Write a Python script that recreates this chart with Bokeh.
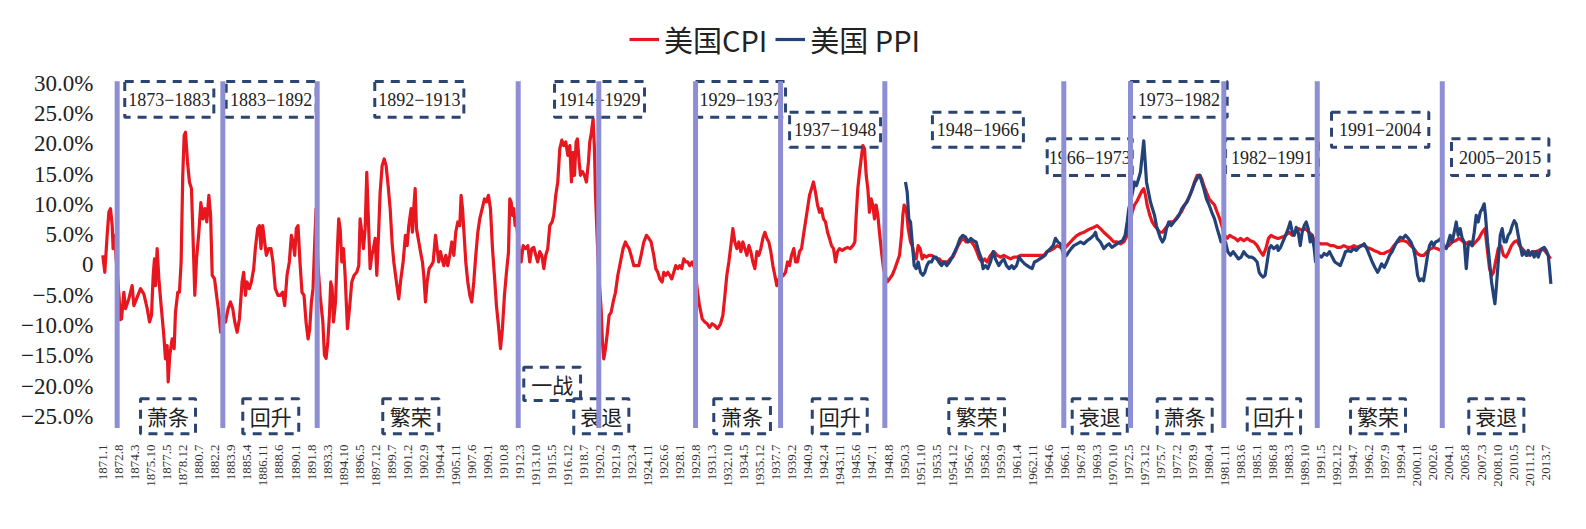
import numpy as np
from bokeh.plotting import figure
from bokeh.models import Range1d, FixedTicker, Legend, LegendItem
from bokeh.core.properties import value
from bokeh.embed import file_html
from bokeh.resources import INLINE

# ---------------- data ----------------
tick_labels = ["1871.1", "1872.8", "1874.3", "1875.10", "1877.5", "1878.12", "1880.7", "1882.2", "1883.9",
               "1885.4", "1886.11", "1888.6", "1890.1", "1891.8", "1893.3", "1894.10", "1896.5", "1897.12",
               "1899.7", "1901.2", "1902.9", "1904.4", "1905.11", "1907.6", "1909.1", "1910.8", "1912.3",
               "1913.10", "1915.5", "1916.12", "1918.7", "1920.2", "1921.9", "1923.4", "1924.11", "1926.6",
               "1928.1", "1929.8", "1931.3", "1932.10", "1934.5", "1935.12", "1937.7", "1939.2", "1940.9",
               "1942.4", "1943.11", "1945.6", "1947.1", "1948.8", "1950.3", "1951.10", "1953.5", "1954.12",
               "1956.7", "1958.2", "1959.9", "1961.4", "1962.11", "1964.6", "1966.1", "1967.8", "1969.3",
               "1970.10", "1972.5", "1973.12", "1975.7", "1977.2", "1978.9", "1980.4", "1981.11", "1983.6",
               "1985.1", "1986.8", "1988.3", "1989.10", "1991.5", "1992.12", "1994.7", "1996.2", "1997.9",
               "1999.4", "2000.11", "2002.6", "2004.1", "2005.8", "2007.3", "2008.10", "2010.5", "2011.12",
               "2013.7"]

y_ticks = [30, 25, 20, 15, 10, 5, 0, -5, -10, -15, -20, -25]
y_tick_labels = ["30.0%", "25.0%", "20.0%", "15.0%", "10.0%", "5.0%", "0", "−5.0%", "−10.0%",
                 "−15.0%", "−20.0%", "−25.0%"]

cpi_year = [1870.96, 1871.16, 1871.39, 1871.56, 1871.72, 1871.89, 1871.98, 1872.15, 1872.28, 1872.41, 1872.55,
            1872.7, 1872.81, 1873.04, 1873.2, 1873.53, 1873.86, 1874.03, 1874.36, 1874.69, 1875.02, 1875.35,
            1875.58, 1875.77, 1875.94, 1876.07, 1876.17, 1876.33, 1876.5, 1876.69, 1876.99, 1877.15, 1877.32,
            1877.42, 1877.58, 1877.81, 1878.01, 1878.14, 1878.37, 1878.53, 1878.7, 1878.86, 1879.0, 1879.13,
            1879.33, 1879.52, 1879.72, 1879.89, 1880.05, 1880.22, 1880.45, 1880.65, 1880.85, 1881.05, 1881.24,
            1881.44, 1881.61, 1881.77, 1882.0, 1882.2, 1882.37, 1882.6, 1882.76, 1883.08, 1883.34, 1883.57,
            1883.8, 1884.0, 1884.23, 1884.46, 1884.72, 1884.88, 1885.05, 1885.21, 1885.44, 1885.64, 1885.87,
            1886.03, 1886.26, 1886.43, 1886.59, 1886.76, 1886.95, 1887.12, 1887.35, 1887.58, 1887.77, 1888.0,
            1888.27, 1888.5, 1888.73, 1888.93, 1889.16, 1889.39, 1889.59, 1889.75, 1889.92, 1890.08, 1890.25,
            1890.44, 1890.64, 1890.84, 1891.04, 1891.24, 1891.4, 1891.57, 1891.73, 1891.9, 1892.03, 1892.2,
            1892.43, 1892.7, 1892.86, 1893.02, 1893.19, 1893.35, 1893.48, 1893.62, 1893.75, 1893.95, 1894.14,
            1894.27, 1894.41, 1894.57, 1894.74, 1894.9, 1895.13, 1895.33, 1895.56, 1895.79, 1896.05, 1896.25,
            1896.38, 1896.55, 1896.71, 1896.88, 1897.04, 1897.21, 1897.37, 1897.54, 1897.7, 1897.87, 1898.03,
            1898.2, 1898.36, 1898.56, 1898.76, 1898.95, 1899.15, 1899.35, 1899.55, 1899.71, 1899.97, 1900.2,
            1900.37, 1900.63, 1900.86, 1901.03, 1901.19, 1901.42, 1901.55, 1901.68, 1901.82, 1901.95, 1902.18,
            1902.41, 1902.54, 1902.67, 1902.84, 1903.0, 1903.2, 1903.4, 1903.6, 1903.83, 1903.99, 1904.15,
            1904.32, 1904.48, 1904.65, 1904.85, 1905.04, 1905.24, 1905.44, 1905.64, 1905.83, 1906.03, 1906.23,
            1906.36, 1906.5, 1906.62, 1906.82, 1907.02, 1907.22, 1907.41, 1907.61, 1907.81, 1908.01, 1908.2,
            1908.44, 1908.67, 1908.86, 1909.06, 1909.26, 1909.46, 1909.65, 1909.85, 1910.05, 1910.25, 1910.44,
            1910.64, 1910.84, 1911.04, 1911.17, 1911.3, 1911.43, 1911.56, 1911.7, 1911.83, 1912.05, 1912.29,
            1912.49, 1912.72, 1912.95, 1913.14, 1913.34, 1913.54, 1913.74, 1913.93, 1914.13, 1914.33, 1914.53,
            1914.72, 1914.92, 1915.12, 1915.35, 1915.51, 1915.71, 1915.91, 1916.11, 1916.31, 1916.5, 1916.7,
            1916.9, 1917.1, 1917.26, 1917.42, 1917.56, 1917.72, 1917.85, 1918.02, 1918.15, 1918.35, 1918.54,
            1918.74, 1918.94, 1919.07, 1919.23, 1919.4, 1919.53, 1919.63, 1919.79, 1919.96, 1920.19, 1920.32,
            1920.45, 1920.62, 1920.78, 1920.98, 1921.18, 1921.38, 1921.61, 1921.84, 1922.1, 1922.36, 1922.59,
            1922.76, 1922.96, 1923.15, 1923.42, 1923.68, 1923.91, 1924.14, 1924.41, 1924.67, 1924.9, 1925.13,
            1925.39, 1925.59, 1925.79, 1925.99, 1926.22, 1926.38, 1926.58, 1926.78, 1926.97, 1927.17, 1927.37,
            1927.56, 1927.76, 1927.96, 1928.16, 1928.36, 1928.55, 1928.75, 1928.95, 1929.19, 1929.45, 1929.68,
            1929.91, 1930.18, 1930.44, 1930.67, 1930.9, 1931.16, 1931.43, 1931.69, 1931.99, 1932.22, 1932.42,
            1932.61, 1932.81, 1933.01, 1933.21, 1933.4, 1933.6, 1933.8, 1934.0, 1934.19, 1934.39, 1934.59,
            1934.79, 1934.98, 1935.18, 1935.38, 1935.58, 1935.77, 1935.97, 1936.17, 1936.37, 1936.56, 1936.76,
            1936.96, 1937.16, 1937.35, 1937.55, 1937.75, 1938.21, 1938.41, 1938.61, 1938.8, 1939.0, 1939.23,
            1939.4, 1939.59, 1939.79, 1939.99, 1940.18, 1940.38, 1940.58, 1940.78, 1940.98, 1941.17, 1941.37,
            1941.57, 1941.77, 1941.96, 1942.16, 1942.36, 1942.56, 1942.75, 1942.95, 1943.15, 1943.35, 1943.54,
            1943.74, 1944.01, 1944.27, 1944.53, 1944.8, 1945.06, 1945.26, 1945.39, 1945.55, 1945.72, 1945.88,
            1946.05, 1946.21, 1946.38, 1946.54, 1946.7, 1946.87, 1947.03, 1947.2, 1947.36, 1947.53, 1947.69,
            1947.89, 1948.09, 1948.45, 1948.68, 1948.94, 1949.21, 1949.44, 1949.67, 1949.87, 1950.0, 1950.13,
            1950.33, 1950.53, 1950.76, 1950.92, 1951.12, 1951.32, 1951.51, 1951.71, 1951.91, 1952.11, 1952.3,
            1952.57, 1952.83, 1953.09, 1953.36, 1953.62, 1953.88, 1954.15, 1954.41, 1954.67, 1954.94, 1955.2,
            1955.46, 1955.73, 1955.99, 1956.25, 1956.52, 1956.78, 1957.04, 1957.31, 1957.57, 1957.83, 1958.1,
            1958.33, 1958.66, 1958.99, 1959.32, 1959.65, 1959.97, 1960.3, 1960.63, 1960.96, 1961.29, 1961.62,
            1961.95, 1962.28, 1962.61, 1962.94, 1963.27, 1963.6, 1963.93, 1964.25, 1964.58, 1964.91, 1965.24,
            1965.57, 1965.9, 1966.23, 1966.56, 1966.89, 1967.22, 1967.55, 1967.88, 1968.2, 1968.53, 1968.86,
            1969.19, 1969.52, 1969.85, 1970.18, 1970.51, 1970.84, 1971.17, 1971.5, 1971.83, 1972.16, 1972.42,
            1972.65, 1972.88, 1973.15, 1973.41, 1973.64, 1973.8, 1973.97, 1974.13, 1974.4, 1974.63, 1974.86,
            1975.12, 1975.39, 1975.65, 1975.91, 1976.18, 1976.44, 1976.7, 1976.97, 1977.23, 1977.49, 1977.76,
            1978.02, 1978.28, 1978.55, 1978.81, 1979.07, 1979.34, 1979.53, 1979.73, 1979.99, 1980.26, 1980.52,
            1980.79, 1981.05, 1981.31, 1981.51, 1981.75, 1982.04, 1982.3, 1982.56, 1982.83, 1983.09, 1983.35,
            1983.68, 1984.01, 1984.34, 1984.67, 1985.0, 1985.33, 1985.59, 1985.86, 1986.12, 1986.38, 1986.65,
            1986.98, 1987.15, 1987.48, 1987.81, 1988.14, 1988.47, 1988.8, 1989.12, 1989.45, 1989.78, 1990.11,
            1990.44, 1990.71, 1990.94, 1991.27, 1991.6, 1991.92, 1992.25, 1992.58, 1992.91, 1993.24, 1993.57,
            1993.9, 1994.23, 1994.56, 1994.89, 1995.22, 1995.55, 1995.87, 1996.2, 1996.53, 1996.86, 1997.19,
            1997.52, 1997.85, 1998.18, 1998.51, 1998.84, 1999.17, 1999.5, 1999.83, 2000.16, 2000.49, 2000.81,
            2001.14, 2001.47, 2001.8, 2002.13, 2002.46, 2002.79, 2003.12, 2003.61, 2003.94, 2004.27, 2004.6,
            2004.93, 2005.26, 2005.59, 2005.92, 2006.25, 2006.58, 2006.91, 2007.23, 2007.5, 2007.73, 2007.96,
            2008.16, 2008.35, 2008.55, 2008.82, 2009.08, 2009.34, 2009.6, 2009.87, 2010.13, 2010.4, 2010.66,
            2010.92, 2011.19, 2011.45, 2011.71, 2011.98, 2012.24, 2012.5, 2012.83, 2013.16, 2013.49, 2013.76,
            2013.99]
cpi_value = [1.6, -1.2, 4.9, 8.7, 9.3, 6.5, 2.7, 4.9, 1.0, -1.7, -4.8,
             -9.0, -8.9, -4.5, -7.2, -5.6, -3.4, -6.7, -5.3, -3.9, -4.8, -7.2,
             -9.4, -8.3, -1.7, 1.0, -3.4, 2.7, -2.3, -6.1, -11.6, -15.5, -13.3,
             -19.3, -14.9, -12.2, -13.8, -7.8, -4.5, -4.5, 0.5, 14.8, 21.4, 21.9,
             17.0, 13.7, 12.6, 3.8, -5.0, 1.0, 5.4, 10.3, 7.6, 9.3, 7.1,
             11.5, 8.2, -1.7, -2.3, -5.0, -7.2, -11.1, -8.3, -9.4, -7.2, -6.1,
             -7.2, -9.4, -11.1, -8.9, -2.8, -1.2, -5.0, -2.8, -3.9, -2.8, -0.6,
             2.7, 6.0, 6.5, 2.7, 6.5, 3.8, 1.6, 2.7, 2.7, 0.5, -3.9,
             -5.0, -5.0, -4.5, -6.7, -1.7, 0.5, 4.9, 3.8, 1.6, 6.0, 6.5,
             0.5, -4.5, -5.0, -9.4, -12.2, -10.6, -6.1, -3.9, 3.8, 9.3, 0.5,
             -5.0, -9.4, -14.9, -15.4, -12.7, -8.3, -2.8, -3.9, -9.4, -6.1, 2.7,
             7.6, 6.0, 0.5, 2.7, -1.7, -10.5, -7.2, -2.8, -1.7, -1.2, -0.1,
             7.6, 5.4, 2.7, 6.0, 15.3, 7.0, -0.6, 1.6, 2.7, 4.4, -1.7,
             4.9, 12.0, 16.4, 17.5, 16.4, 13.1, 9.3, 3.5, 0.5, -2.8, -5.6,
             -2.8, 0.5, 4.9, 3.2, 6.5, 9.3, 5.4, 9.3, 12.6, 6.0, 3.8,
             1.6, 0.5, -1.7, -6.1, -2.8, -0.6, -0.1, 0.5, 4.9, 2.7, 0.5,
             2.2, 1.0, -0.1, 1.6, -0.1, 1.6, 3.8, 1.6, 5.4, 7.1, 6.5,
             11.5, 9.3, 6.0, 0.5, -2.8, -5.0, -6.1, -2.8, 1.6, 5.4, 7.6,
             9.3, 10.9, 10.4, 11.5, 9.3, 2.7, -1.7, -6.7, -10.0, -13.8, -10.5,
             -5.0, -1.2, 2.1, 10.9, 10.4, 8.2, 9.3, 6.5, 7.1, 3.0, 0.5,
             3.2, 2.7, 3.2, 0.5, 2.7, 2.9, 1.6, 0.5, 2.2, 1.6, -0.6,
             1.6, 2.7, 6.5, 7.1, 8.2, 11.5, 13.7, 19.2, 20.6, 19.7, 20.3,
             18.1, 19.7, 13.7, 18.6, 14.8, 20.3, 20.8, 17.0, 14.8, 15.4, 14.8,
             13.7, 17.0, 20.3, 21.9, 24.1, 19.2, 12.0, 4.9, -1.7, -7.2, -12.7,
             -15.5, -13.8, -11.6, -8.3, -7.8, -6.1, -4.5, -1.7, 0.5, 2.7, 3.8,
             3.2, 2.7, 1.6, -0.1, -0.1, -0.1, 1.6, 3.8, 4.9, 4.4, 3.8,
             1.6, -0.6, -1.2, -2.3, -2.8, -1.2, -1.7, -1.2, -1.7, -2.3, -1.2,
             -0.1, -0.6, -0.1, -0.6, 1.0, 0.5, 0.5, -0.1, 0.5, -0.6, -3.9,
             -6.7, -8.9, -9.4, -9.7, -10.3, -9.7, -10.0, -10.5, -9.7, -8.3, -5.0,
             -1.7, 0.5, 3.2, 6.0, 3.8, 2.7, 3.8, 2.2, 3.8, 2.7, 1.6,
             3.2, 2.2, 0.5, -0.6, 2.2, 1.6, 2.7, 4.4, 5.4, 4.4, 3.8,
             2.2, -0.1, -1.7, -3.4, -2.3, -1.7, -1.2, 0.5, -0.1, 1.6, 2.7,
             0.5, 0.5, 2.2, 2.7, 4.9, 7.1, 9.3, 11.5, 12.6, 13.7, 12.0,
             9.9, 8.7, 9.3, 7.6, 7.1, 5.4, 4.4, 3.2, 2.7, 0.5, 2.2,
             2.7, 2.4, 2.7, 2.9, 2.7, 3.2, 3.8, 8.2, 12.6, 15.3, 17.5,
             19.7, 19.2, 14.8, 12.6, 8.7, 10.9, 9.9, 7.6, 9.9, 8.2, 5.4,
             2.2, -0.6, -2.8, -2.3, -1.7, -0.6, 0.5, 1.6, 4.9, 8.2, 9.9,
             9.3, 6.0, 3.8, 3.2, 1.6, 1.0, 3.2, 2.7, 1.0, 1.6, 1.3,
             1.6, 1.6, 1.3, 1.0, 1.0, 0.5, 0.5, 0.5, 1.0, 1.3, 2.2,
             3.2, 4.0, 4.4, 3.8, 4.0, 3.8, 3.2, 2.2, 1.0, 0.5, 1.0,
             0.5, 1.6, 2.2, 1.6, 1.3, 1.6, 1.3, 1.0, 1.3, 1.3, 1.6,
             1.6, 1.6, 1.6, 1.6, 1.6, 1.6, 1.6, 2.2, 2.4, 2.7, 3.2,
             2.9, 2.6, 3.2, 3.8, 4.4, 4.9, 5.2, 5.4, 5.7, 6.0, 6.2,
             6.5, 6.0, 5.4, 4.9, 4.4, 3.8, 3.8, 3.5, 3.8, 4.9, 6.5,
             8.7, 9.9, 10.6, 11.5, 12.3, 12.6, 11.5, 9.9, 8.2, 7.1, 6.5,
             6.0, 5.4, 5.4, 6.0, 6.5, 7.1, 7.1, 7.6, 8.2, 8.7, 9.6,
             10.4, 11.2, 12.3, 13.7, 14.8, 14.8, 14.2, 13.1, 12.0, 10.9, 10.4,
             9.9, 8.7, 7.6, 6.5, 5.0, 4.4, 4.9, 4.6, 4.4, 4.0, 4.4,
             4.0, 4.4, 4.0, 3.8, 3.2, 2.2, 1.6, 2.7, 4.4, 4.9, 4.6,
             4.4, 4.4, 4.6, 4.9, 5.4, 4.9, 5.4, 6.0, 5.7, 6.0, 5.4,
             4.9, 3.8, 3.8, 3.5, 3.5, 3.5, 3.2, 3.2, 2.9, 2.9, 3.2,
             2.9, 2.9, 3.2, 2.9, 3.2, 3.2, 2.9, 2.7, 2.4, 2.2, 1.9,
             1.9, 2.2, 2.4, 3.2, 3.8, 4.0, 4.0, 3.8, 3.2, 2.7, 1.9,
             1.6, 1.6, 2.2, 2.7, 2.9, 2.7, 2.4, 2.9, 3.2, 3.8, 4.0,
             4.4, 4.0, 3.5, 3.8, 3.2, 3.8, 4.4, 5.4, 6.0, 2.7, -0.6,
             -1.7, -1.2, 0.5, 2.7, 3.2, 1.6, 1.3, 2.2, 3.2, 3.8, 4.0,
             3.2, 2.7, 2.2, 1.6, 1.9, 2.2, 2.2, 2.4, 2.7, 2.2, 1.6,
             1.0]

ppi_year = [1950.26, 1950.43, 1950.59, 1950.76, 1950.92, 1951.12, 1951.32, 1951.51, 1951.74, 1951.97, 1952.17,
            1952.37, 1952.57, 1952.83, 1953.06, 1953.29, 1953.55, 1953.82, 1954.08, 1954.34, 1954.61, 1954.87,
            1955.13, 1955.4, 1955.66, 1955.92, 1956.19, 1956.45, 1956.71, 1956.98, 1957.24, 1957.5, 1957.77,
            1957.93, 1958.16, 1958.39, 1958.66, 1958.92, 1959.15, 1959.48, 1959.71, 1959.97, 1960.24, 1960.5,
            1960.77, 1960.96, 1961.23, 1961.49, 1961.75, 1962.02, 1962.28, 1962.54, 1962.77, 1963.0, 1963.27,
            1963.53, 1963.8, 1964.06, 1964.25, 1964.58, 1964.85, 1965.08, 1965.31, 1965.57, 1965.95, 1966.17,
            1966.4, 1966.63, 1966.89, 1967.22, 1967.55, 1967.88, 1968.2, 1968.53, 1968.86, 1969.03, 1969.19,
            1969.52, 1969.85, 1970.12, 1970.38, 1970.64, 1970.91, 1971.17, 1971.43, 1971.7, 1971.96, 1972.16,
            1972.32, 1972.49, 1972.69, 1972.88, 1973.08, 1973.28, 1973.47, 1973.64, 1973.8, 1973.94, 1974.07,
            1974.27, 1974.46, 1974.66, 1974.86, 1975.05, 1975.25, 1975.45, 1975.65, 1975.85, 1976.04, 1976.27,
            1976.5, 1976.77, 1977.03, 1977.29, 1977.56, 1977.82, 1978.08, 1978.35, 1978.61, 1978.87, 1979.14,
            1979.34, 1979.53, 1979.73, 1979.99, 1980.26, 1980.52, 1980.79, 1981.05, 1981.25, 1981.44, 1981.87,
            1982.1, 1982.37, 1982.63, 1982.89, 1983.16, 1983.42, 1983.68, 1983.95, 1984.21, 1984.47, 1984.74,
            1985.0, 1985.2, 1985.4, 1985.59, 1985.79, 1985.99, 1986.19, 1986.38, 1986.65, 1986.98, 1987.08,
            1987.31, 1987.54, 1987.81, 1988.07, 1988.27, 1988.47, 1988.66, 1988.86, 1989.06, 1989.26, 1989.45,
            1989.65, 1989.85, 1990.05, 1990.24, 1990.44, 1990.64, 1990.77, 1990.94, 1991.1, 1991.36, 1991.63,
            1991.89, 1992.15, 1992.42, 1992.68, 1992.94, 1993.21, 1993.47, 1993.73, 1994.0, 1994.26, 1994.52,
            1994.79, 1995.05, 1995.32, 1995.58, 1995.84, 1996.11, 1996.37, 1996.63, 1996.9, 1997.09, 1997.29,
            1997.55, 1997.82, 1998.08, 1998.34, 1998.61, 1998.87, 1999.14, 1999.4, 1999.66, 1999.93, 2000.19,
            2000.45, 2000.65, 2000.85, 2001.04, 2001.24, 2001.44, 2001.64, 2001.84, 2002.03, 2002.23, 2002.43,
            2002.63, 2002.89, 2003.15, 2003.45, 2003.68, 2003.88, 2004.07, 2004.27, 2004.47, 2004.67, 2004.86,
            2005.06, 2005.26, 2005.46, 2005.66, 2005.85, 2006.05, 2006.25, 2006.45, 2006.64, 2006.84, 2007.04,
            2007.23, 2007.43, 2007.56, 2007.76, 2007.96, 2008.16, 2008.35, 2008.49, 2008.62, 2008.82, 2009.02,
            2009.21, 2009.41, 2009.6, 2009.8, 2010.0, 2010.2, 2010.4, 2010.59, 2010.79, 2010.99, 2011.19,
            2011.38, 2011.58, 2011.78, 2011.98, 2012.17, 2012.37, 2012.57, 2012.77, 2012.96, 2013.16, 2013.36,
            2013.56, 2013.76, 2013.89, 2014.02]
ppi_value = [13.7, 12.0, 7.6, 7.1, 3.8, -0.1, -0.6, 0.5, -1.2, -1.7, -1.2,
             -0.1, 0.5, 0.5, 1.3, 1.3, 0.5, -0.1, 0.5, -0.1, 0.5, 1.3,
             2.2, 3.2, 4.4, 4.9, 4.6, 3.8, 4.4, 4.0, 3.8, 2.2, 1.0,
             -0.6, -0.1, -0.6, 0.5, 2.2, 1.0, -0.1, 0.5, 1.0, -0.1, -0.6,
             -0.1, -0.6, -0.1, 1.3, 0.7, 0.2, -0.1, -0.4, -0.6, 0.5, 0.7,
             1.0, 1.3, 1.6, 2.2, 2.7, 3.2, 4.4, 3.8, 3.5, 1.3, 1.6,
             2.2, 2.7, 3.2, 3.5, 3.8, 3.5, 4.0, 4.4, 4.9, 5.4, 4.4,
             3.8, 2.7, 3.2, 3.5, 2.9, 3.2, 3.5, 3.8, 4.0, 4.9, 7.1,
             9.3, 10.4, 12.0, 13.7, 13.1, 14.2, 15.3, 18.0, 20.5, 17.0, 13.7,
             12.0, 10.4, 9.3, 8.2, 6.5, 5.4, 4.4, 3.8, 4.4, 6.0, 7.1,
             6.5, 7.1, 7.6, 8.2, 9.3, 9.9, 10.4, 11.5, 12.6, 13.7, 14.5,
             14.8, 13.7, 12.6, 10.9, 9.9, 8.7, 7.6, 6.0, 4.9, 3.8, 3.8,
             2.2, 1.6, 2.2, 1.6, 1.0, 1.3, 2.2, 1.6, 1.3, 1.3, 1.0,
             0.5, -1.2, -1.7, -2.0, -1.7, 0.5, 2.7, 3.2, 2.7, 3.2, 2.4,
             2.9, 3.8, 4.9, 6.0, 7.1, 5.4, 4.9, 6.2, 5.4, 3.2, 5.4,
             6.5, 7.1, 6.0, 3.8, 4.9, 2.7, 0.5, 1.6, 1.6, 1.3, 1.9,
             1.6, 2.2, 1.3, 0.5, 0.2, -0.1, 1.0, 2.2, 2.4, 2.2, 2.7,
             2.4, 2.9, 3.2, 3.5, 2.7, 1.6, 0.5, -0.4, -1.2, -0.6, 0.2,
             -0.4, 0.5, 1.6, 2.2, 3.2, 4.0, 4.6, 4.4, 4.9, 4.4, 3.8,
             2.7, 1.0, -1.7, -2.6, -2.3, -2.6, -0.6, 1.6, 3.2, 3.8, 3.2,
             3.8, 4.0, 4.4, 3.2, 2.7, 3.8, 4.9, 3.8, 5.4, 7.1, 4.9,
             6.0, 4.4, 3.8, -0.6, 3.2, 3.8, 3.2, 5.4, 8.2, 7.1, 8.7,
             9.3, 10.1, 8.2, 3.8, 0.5, -2.8, -5.0, -6.4, -3.9, 0.5, 4.9,
             6.0, 3.8, 3.8, 4.9, 5.4, 6.5, 7.3, 6.8, 4.9, 3.2, 1.6,
             2.2, 1.6, 2.4, 1.6, 2.2, 1.3, 2.2, 1.3, 2.2, 2.7, 2.9,
             2.4, 1.6, -0.6, -3.1]

# business-cycle boundaries (year) and annotation boxes
cycle_bounds = [1872.38, 1882.82, 1892.14, 1912.0, 1919.96, 1929.52, 1937.92, 1948.22,
                1965.9, 1972.49, 1981.71, 1990.94, 2003.29]

period_labels = ["1873−1883", "1883−1892", "1892−1913", "1914−1929", "1929−1937", "1937−1948",
                 "1948−1966", "1966−1973", "1973−1982", "1982−1991", "1991−2004", "2005−2015"]
period_x0 = [1873.13, 1883.15, 1897.83, 1915.59, 1929.52, 1938.81, 1952.92, 1964.26, 1972.49, 1981.88, 1992.35, 2004.2]
period_x1 = [1881.93, 1892.04, 1906.63, 1924.48, 1938.41, 1947.8, 1961.91, 1972.66, 1982.04, 1991.06, 2001.96, 2013.82]
period_row = [0, 0, 0, 0, 0, 1, 1, 2, 0, 2, 1, 2]

phase_labels = ["萧条", "回升", "繁荣", "衰退", "萧条", "回升", "繁荣", "衰退", "萧条", "回升", "繁荣", "衰退"]
phase_x0 = [1874.69, 1884.79, 1898.62, 1917.49, 1931.32, 1941.05, 1954.54, 1966.73, 1975.13, 1984.02, 1994.23, 2005.91]
phase_x1 = [1880.12, 1890.32, 1904.16, 1922.93, 1936.92, 1946.48, 1960.04, 1972.17, 1980.56, 1989.29, 1999.66, 2011.35]

war_label = "一战"
war_x0, war_x1 = 1912.55, 1918.16


def to_m(y):
    return (np.asarray(y, dtype=float) - 1871.0) * 12.0


# ---------------- figure ----------------
p = figure(width=1586, height=529, output_backend="svg", toolbar_location=None,
           x_range=Range1d(to_m(1870.24), to_m(2014.97)), y_range=Range1d(-28.3, 41.17),
           min_border_left=95, min_border_right=26, min_border_top=15, min_border_bottom=93)
p.outline_line_color = None
p.grid.visible = False
p.background_fill_color = "white"

# x axis
tick_pos = []
for lab in tick_labels:
    yy, mm = lab.split(".")
    tick_pos.append((int(yy) - 1871) * 12 + int(mm) - 1)
p.xaxis.ticker = FixedTicker(ticks=tick_pos)
p.xaxis.major_label_overrides = {t: l for t, l in zip(tick_pos, tick_labels)}
p.xaxis.major_label_orientation = np.pi / 2
p.xaxis.axis_line_color = None
p.xaxis.major_tick_line_color = None
p.xaxis.minor_tick_line_color = None
p.xaxis.major_tick_out = 0
p.xaxis.major_tick_in = 0
p.xaxis.major_label_text_font = "Liberation Serif"
p.xaxis.major_label_text_font_size = "13px"
p.xaxis.major_label_text_color = "#333333"
p.xaxis.major_label_standoff = 8

# y axis
p.yaxis.ticker = FixedTicker(ticks=y_ticks)
p.yaxis.major_label_overrides = {t: l for t, l in zip(y_ticks, y_tick_labels)}
p.yaxis.axis_line_color = None
p.yaxis.major_tick_line_color = None
p.yaxis.minor_tick_line_color = None
p.yaxis.major_tick_out = 0
p.yaxis.major_tick_in = 0
p.yaxis.major_label_text_font = "Liberation Serif"
p.yaxis.major_label_text_font_size = "23px"
p.yaxis.major_label_text_color = "#222222"
p.yaxis.major_label_standoff = 2

# series
r_cpi = p.line(to_m(cpi_year), cpi_value, line_color="#E8161F", line_width=3.2, line_join="round")
r_ppi = p.line(to_m(ppi_year), ppi_value, line_color="#234279", line_width=3.2, line_join="round")

# dashed boxes: period labels (top)
row_top = [30.28, 25.21, 20.83]
row_bot = [24.39, 19.44, 14.77]
box_color = "#2C4470"
p.quad(left=to_m(period_x0), right=to_m(period_x1),
       top=[row_top[r] for r in period_row], bottom=[row_bot[r] for r in period_row],
       fill_alpha=0, line_color=box_color, line_width=3, line_dash="9 7")
p.text(x=(to_m(period_x0) + to_m(period_x1)) / 2,
       y=[(row_top[r] + row_bot[r]) / 2 for r in period_row],
       text=period_labels, text_align="center", text_baseline="middle",
       text_font=value("Liberation Serif"), text_font_size="18px", text_color="#222222")

# dashed boxes: phase labels (bottom)
p.quad(left=to_m(phase_x0), right=to_m(phase_x1), top=-22.08, bottom=-27.85,
       fill_alpha=0, line_color=box_color, line_width=3, line_dash="9 7")
p.text(x=(to_m(phase_x0) + to_m(phase_x1)) / 2, y=-24.9, text=phase_labels,
       text_align="center", text_baseline="middle",
       text_font=value("Noto Sans CJK SC"), text_font_size="21px", text_color="#222222")

p.quad(left=[to_m(war_x0)], right=[to_m(war_x1)], top=[-16.86], bottom=[-22.36],
       fill_alpha=0, line_color=box_color, line_width=3, line_dash="9 7")
p.text(x=[(to_m(war_x0) + to_m(war_x1)) / 2], y=[-19.6], text=[war_label],
       text_align="center", text_baseline="middle",
       text_font=value("Noto Sans CJK SC"), text_font_size="21px", text_color="#222222")

# cycle boundary lines
cb = to_m(cycle_bounds)
p.segment(x0=cb, y0=30.3, x1=cb, y1=-26.9, line_color="#8E8ED4", line_width=5)

# legend
legend = Legend(items=[LegendItem(label="美国CPI", renderers=[r_cpi]),
                       LegendItem(label="美国 PPI", renderers=[r_ppi])],
                orientation="horizontal", location=(534, 376))
legend.padding = 0
legend.margin = 0
legend.spacing = 8
legend.glyph_width = 30
legend.label_standoff = 5
legend.border_line_color = None
legend.background_fill_alpha = 0
legend.label_text_font = "Noto Sans CJK SC"
legend.label_text_font_size = "29px"
legend.label_text_color = "#222222"
p.add_layout(legend)

open("out.html", "w").write(file_html(p, INLINE))
